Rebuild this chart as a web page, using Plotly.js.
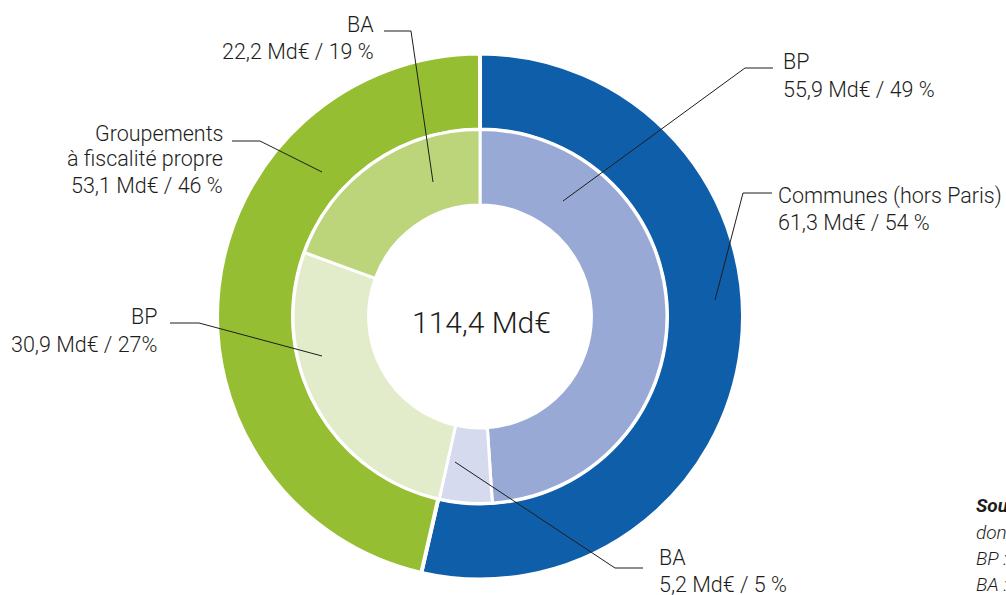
<!DOCTYPE html>
<html>
<head>
<meta charset="utf-8">
<script src="https://cdn.plot.ly/plotly-3.0.1.min.js"></script>
<style>
  html, body { margin: 0; padding: 0; background: #fff; overflow: hidden; }
  #chart { width: 1006px; height: 595px; }
</style>
</head>
<body>
<div id="chart"></div>
<script>
// outer ring: type of collectivity
var outerLabels = ["Communes (hors Paris)", "Groupements à fiscalité propre"];
var outerValues = [61.3, 53.1];
var outerColors = ["#0f5eaa", "#96be33"];

// inner ring: budgets principaux / annexes
var innerLabels = ["BP communes", "BA communes", "BP groupements", "BA groupements"];
var innerValues = [55.9, 5.2, 30.9, 22.2];
var innerColors = ["#99a9d6", "#d5daee", "#e2ebca", "#bcd47a"];

var totalText = "114,4 Md€";

var W = 1006, H = 595;
function px(x) { return x / W; }
function py(y) { return 1 - y / H; }

var outer = {
  type: "pie",
  labels: outerLabels,
  values: outerValues,
  sort: false,
  direction: "clockwise",
  rotation: 0,
  hole: 0.711,
  textinfo: "none",
  hoverinfo: "none",
  marker: {colors: outerColors, line: {color: "#ffffff", width: 4}},
  domain: {x: [0.2157, 0.7386], y: [0.0261, 0.9101]}
};

var inner = {
  type: "pie",
  labels: innerLabels,
  values: innerValues,
  sort: false,
  direction: "clockwise",
  rotation: 0,
  hole: 0.596,
  textinfo: "none",
  hoverinfo: "none",
  marker: {colors: innerColors, line: {color: "#ffffff", width: 3}},
  domain: {x: [0.2913, 0.6630], y: [0.1538, 0.7824]}
};

var txtFont = {family: "Roboto, 'DejaVu Sans', sans-serif", size: 21.5, color: "#1d1d1b", weight: 300};

// label lines: [text, x, y, anchor]
var labelLines = [
  ["BA", 376, 25, "right"],
  ["22,2 Md€ / 19 %", 376, 51, "right"],
  ["Groupements", 225, 133, "right"],
  ["à fiscalité propre", 225, 159, "right"],
  ["53,1 Md€ / 46 %", 225, 185, "right"],
  ["BP", 781, 62, "left"],
  ["55,9 Md€ / 49 %", 781, 89, "left"],
  ["Communes (hors Paris)", 776, 196, "left"],
  ["61,3 Md€ / 54 %", 776, 222, "left"],
  ["BP", 159, 316, "right"],
  ["30,9 Md€ / 27%", 159, 344, "right"],
  ["BA", 657, 557, "left"],
  ["5,2 Md€ / 5 %", 657, 584, "left"]
];

var annotations = labelLines.map(function (l) {
  return {
    text: l[0], xref: "paper", yref: "paper",
    x: px(l[1]), y: py(l[2]), xanchor: l[3], yanchor: "middle",
    showarrow: false, font: txtFont
  };
});

annotations.push({
  text: totalText, xref: "paper", yref: "paper",
  x: px(481), y: py(322), xanchor: "center", yanchor: "middle",
  showarrow: false,
  font: {family: "Roboto, sans-serif", size: 30, color: "#1d1d1b", weight: 300}
});

// source note, cut by the right edge as in the original
var srcFont = {family: "Roboto, sans-serif", size: 19, color: "#1d1d1b", style: "italic", weight: 300};
var srcLines = [
  ["<b>Source :</b> DGFiP, comptes de gestion ;", 505],
  ["données consolidées 2019.", 532],
  ["BP : budgets principaux.", 558],
  ["BA : budgets annexes.", 584]
];
srcLines.forEach(function (s) {
  annotations.push({
    text: s[0], xref: "paper", yref: "paper",
    x: px(974), y: py(s[1]), xanchor: "left", yanchor: "middle",
    showarrow: false, font: srcFont, align: "left"
  });
});

// leader lines (polylines in pixel coords)
var leaders = [
  [[384, 31], [411, 31], [433, 182]],
  [[232, 141], [260, 141], [322, 172]],
  [[773, 68], [745, 68], [563, 201]],
  [[772, 193], [743, 193], [715, 300]],
  [[170, 323], [199, 323], [322, 356]],
  [[455, 462], [615, 568], [643, 568]]
];

var shapes = leaders.map(function (pts) {
  var d = pts.map(function (p, i) {
    return (i ? "L" : "M") + px(p[0]) + "," + py(p[1]);
  }).join(" ");
  return {type: "path", xref: "paper", yref: "paper", path: d,
          line: {color: "#1d1d1b", width: 1}};
});

var layout = {
  width: W, height: H,
  margin: {l: 0, r: 0, t: 0, b: 0},
  showlegend: false,
  paper_bgcolor: "#ffffff",
  annotations: annotations,
  shapes: shapes,
  hovermode: false
};

Plotly.newPlot("chart", [outer, inner], layout, {displayModeBar: false, staticPlot: true});
</script>
</body>
</html>
